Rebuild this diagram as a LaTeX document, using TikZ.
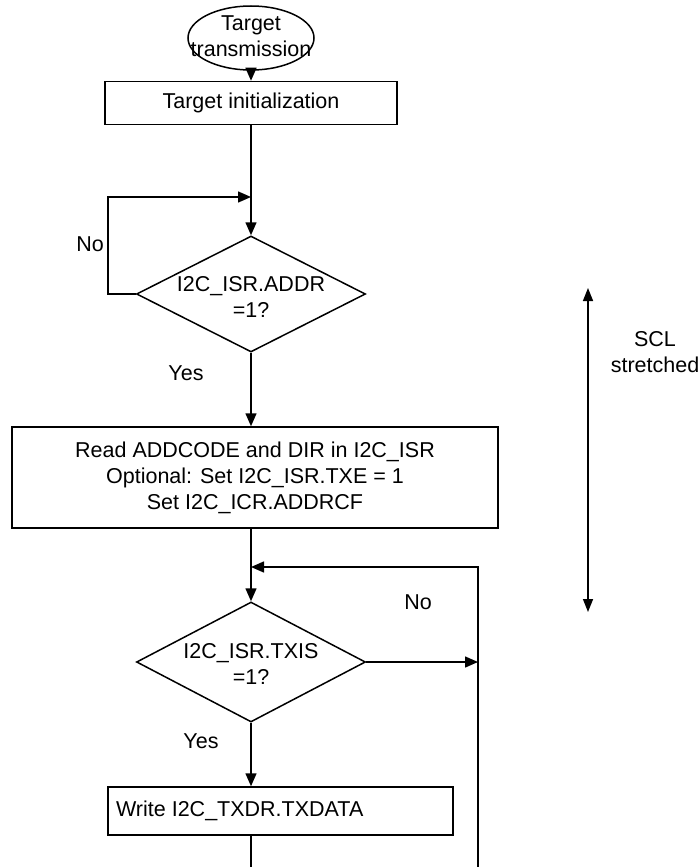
\documentclass[tikz,border=0pt]{standalone}
\usepackage{fontspec}
\setmainfont{Liberation Sans}
\usetikzlibrary{shapes.geometric,arrows.meta}
\begin{document}
\begin{tikzpicture}[x=1pt,y=-1pt,line width=1.5pt,font=\fontsize{21.5}{26}\selectfont,
  arr/.style={-{Triangle[length=13pt,width=11pt]}},
  dbl/.style={{Triangle[length=13pt,width=10pt]}-{Triangle[length=13pt,width=10pt]}},
  boxn/.style={draw,rectangle,align=center,inner sep=0pt},
  decn/.style={draw,diamond,aspect=2,inner sep=0pt,align=center}]
\useasboundingbox (0,0) rectangle (698,867);
\node[draw,ellipse,minimum width=126pt,minimum height=64pt,align=center,inner sep=0pt] (start) at (251,38) {};
\node[align=center] (startt) at (251,36) {Target\\transmission};
\node[boxn,minimum width=292pt,minimum height=43pt] (init) at (251,103) {Target initialization};
\node[decn,minimum width=229pt,minimum height=116pt] (d1) at (251,294) {};
\node[align=center] (d1t) at (251,297) {I2C\_ISR.ADDR\\=1?};
\node[boxn,minimum width=486pt,minimum height=101pt] (read) at (255,477.5) {Read ADDCODE and DIR in I2C\_ISR\\Optional: Set I2C\_ISR.TXE = 1\\Set I2C\_ICR.ADDRCF};
\node[decn,minimum width=229pt,minimum height=120pt] (d2) at (251,662) {};
\node[align=center] (d2t) at (251,664) {I2C\_ISR.TXIS\\=1?};
\node[boxn,minimum width=345pt,minimum height=48pt] (wr) at (280.5,811) {};
\node[anchor=west] (wrt) at (112,811) {Write I2C\_TXDR.TXDATA};
\coordinate (j1) at (251,197);
\coordinate (l1) at (108,294);
\coordinate (l2) at (108,197);
\coordinate (j2) at (251,567);
\coordinate (r1) at (478,567);
\coordinate (r2) at (478,662);
\coordinate (r3) at (478,867);
\coordinate (b1) at (251,867);
\coordinate (s1) at (588,288);
\coordinate (s2) at (588,612);
\draw[arr] (start) -- (init);
\draw[arr] (init) -- (d1);
\draw[arr] (d1.west) -- (l1) -- (l2) -- (j1);
\draw[arr] (d1.south) -- (d1.south |- read.north);
\draw[arr] (d1.south |- read.south) -- (d2.north);
\draw[arr] (r3) -- (r1) -- (j2);
\draw[arr] (d2.east) -- (r2);
\draw[arr] (d2.south) -- (d2.south |- wr.north);
\draw (d2.south |- wr.south) -- (b1);
\draw[dbl] (s1) -- (s2);
\node (no1) at (90,244) {No};
\node (yes1) at (186,373) {Yes};
\node (no2) at (418,602) {No};
\node (yes2) at (201,741) {Yes};
\node[align=center] (scl) at (655,352) {SCL\\stretched};
\end{tikzpicture}
\end{document}
